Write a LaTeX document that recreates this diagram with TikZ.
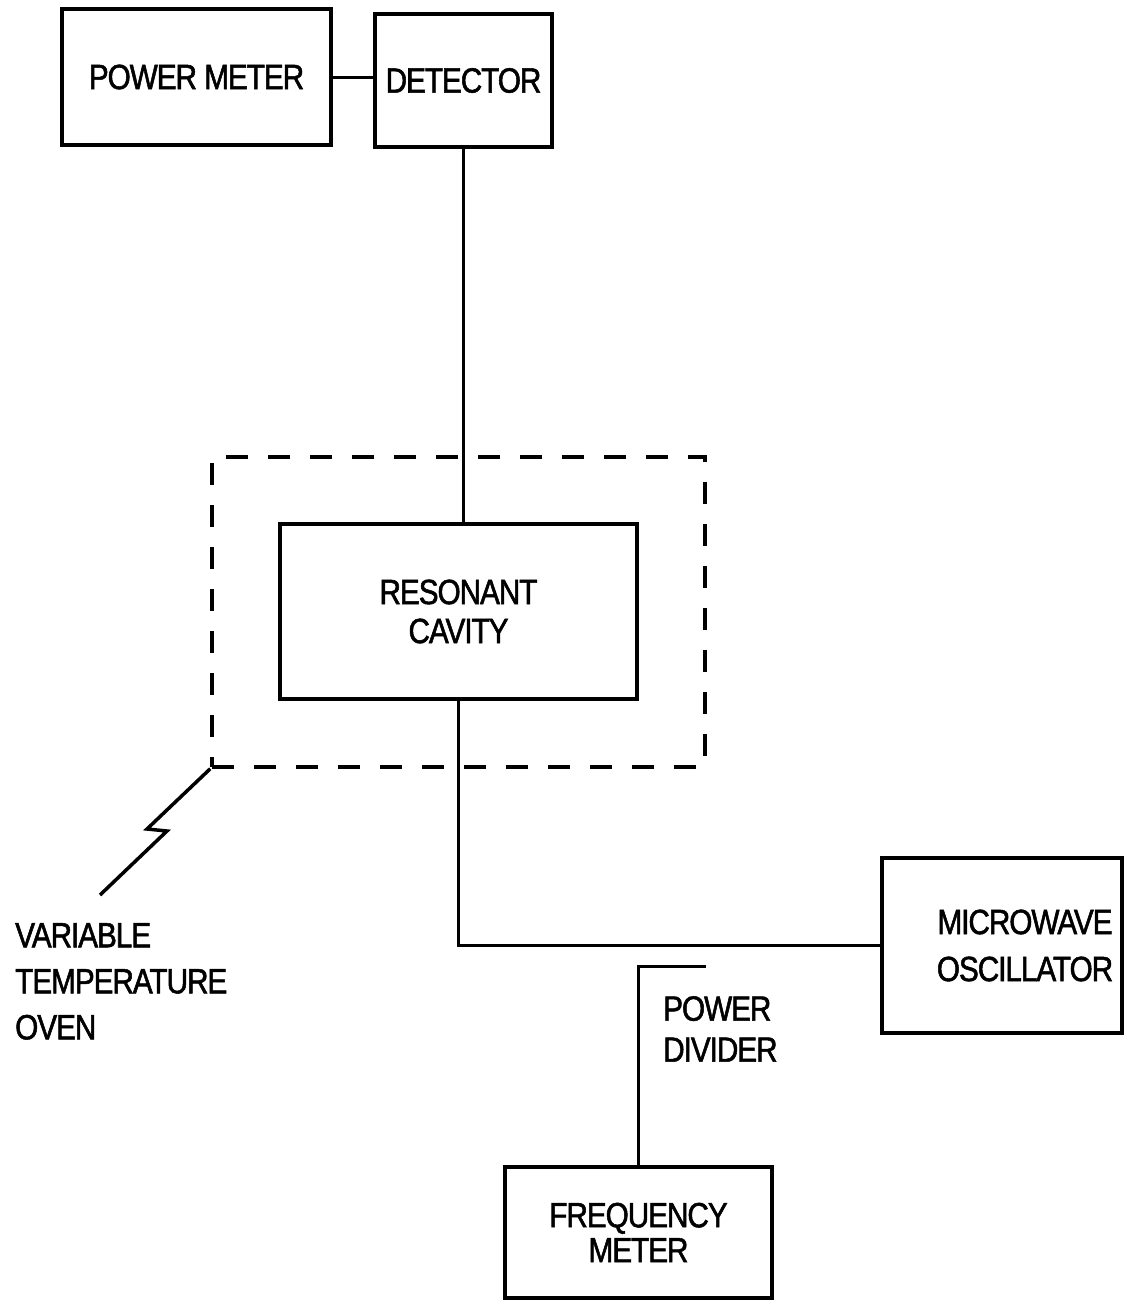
\documentclass[tikz,border=0pt]{standalone}
\usepackage{fontspec}
\newfontfamily\boxfont{Liberation Sans}[FakeStretch=0.85, LetterSpace=-3, FakeBold=1.5]

\tikzset{
    unit/.style={draw, rectangle, line width=3.5pt, inner sep=0pt, align=center, font=\boxfont\fontsize{35}{39}\selectfont},
    note/.style={inner sep=0pt, align=left, font=\boxfont\fontsize{35}{46}\selectfont},
    wire/.style={line width=3pt},
    ovenbox/.style={draw, rectangle, line width=3.5pt, dash pattern=on 22pt off 20pt, inner sep=0pt},
}

\begin{document}
\begin{tikzpicture}[x=1pt, y=-1pt]
        \useasboundingbox (0,0) rectangle (1142,1304);

        \node[unit, minimum width=269, minimum height=136] (pm) at (196.5, 77) {POWER METER};
        \node[unit, minimum width=177, minimum height=133] (det) at (463.5, 80.5) {DETECTOR};
        \draw[wire] (pm.east) -- (pm.east -| det.west);

        \node[ovenbox, minimum width=493, minimum height=310] (oven) at (458.5, 612) {};
        \node[unit, minimum width=357, minimum height=175] (cav) at (458.5, 611.5) {RESONANT\\CAVITY};
        \draw[wire] (det.south) -- (det.south |- cav.north);

        \node[unit, minimum width=240, minimum height=175] (mo) at (1002, 945.5) {};
        \node[unit, draw=none, font=\boxfont\fontsize{35}{47}\selectfont] (motext) at ([xshift=23pt]mo.center) {MICROWAVE\\OSCILLATOR};
        \draw[wire] (cav.south) |- (mo.west);

        \node[unit, minimum width=267, minimum height=131, font=\boxfont\fontsize{35}{35}\selectfont] (fm) at (638.5, 1232.5) {FREQUENCY\\METER};
        \coordinate (tap) at (706, 966);
        \draw[wire] (tap) -| (fm.north);
        \node[note, anchor=north west, font=\boxfont\fontsize{35}{41}\selectfont] (divider) at (663, 996) {POWER\\DIVIDER};

        % lead from the oven to its label
        \coordinate (lead) at (100, 895);
        \draw[line width=3.5pt, line join=miter] (oven.south west) -- (147, 829) -- (167, 831) -- (lead);
        \node[note, anchor=north west] (ovenlabel) at (15, 923) {VARIABLE\\TEMPERATURE\\OVEN};

    \end{tikzpicture}
\end{document}
